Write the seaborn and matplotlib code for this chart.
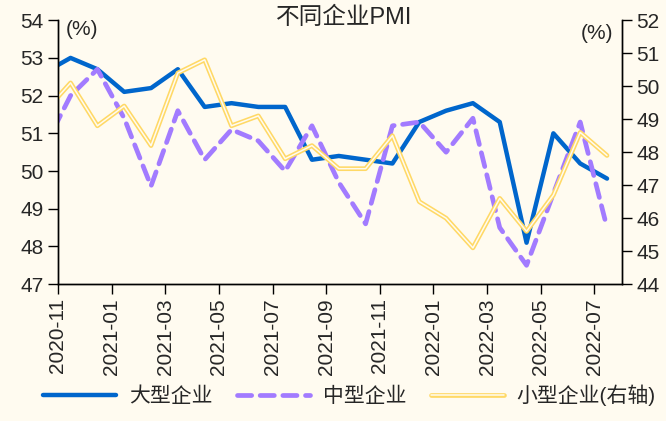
import matplotlib
matplotlib.use("Agg")
import matplotlib.pyplot as plt
from matplotlib.legend_handler import HandlerTuple
import seaborn as sns
import pandas as pd

# Monthly PMI by enterprise size (2020-10 is only partly visible at the left edge)
months = ["2020-10", "2020-11", "2020-12", "2021-01", "2021-02", "2021-03", "2021-04",
          "2021-05", "2021-06", "2021-07", "2021-08", "2021-09", "2021-10", "2021-11",
          "2021-12", "2022-01", "2022-02", "2022-03", "2022-04", "2022-05", "2022-06",
          "2022-07"]
large = [52.6, 53.0, 52.7, 52.1, 52.2, 52.7, 51.7, 51.8, 51.7, 51.7, 50.3, 50.4,
         50.3, 50.2, 51.3, 51.6, 51.8, 51.3, 48.1, 51.0, 50.2, 49.8]
medium = [50.6, 52.0, 52.7, 51.4, 49.6, 51.6, 50.3, 51.1, 50.8, 50.0, 51.2, 49.7,
          48.6, 51.2, 51.3, 50.5, 51.4, 48.5, 47.5, 49.4, 51.3, 48.5]
small = [49.2, 50.1, 48.8, 49.4, 48.2, 50.4, 50.8, 48.8, 49.1, 47.8, 48.2, 47.5,
         47.5, 48.5, 46.5, 46.0, 45.1, 46.6, 45.6, 46.7, 48.6, 47.9]
tick_months = ["2020-11", "2021-01", "2021-03", "2021-05", "2021-07", "2021-09",
               "2021-11", "2022-01", "2022-03", "2022-05", "2022-07"]

bg = "#FFFBF0"
c_large = "#0066CC"
c_medium = "#A27BFF"
c_small = "#FFD966"

df = pd.DataFrame({"month": months, "large": large, "medium": medium, "small": small})
df["x"] = range(-1, len(months) - 1)  # 2020-11 -> 0

sns.set_style("ticks")
plt.rcParams["font.family"] = ["Liberation Sans", "Noto Sans CJK SC", "DejaVu Sans"]

fig = plt.figure(figsize=(6.66, 4.21), dpi=100, facecolor=bg)
ax = fig.add_axes([0.087, 0.325, 0.847, 0.627])
ax.set_facecolor(bg)
ax2 = ax.twinx()

sns.lineplot(data=df, x="x", y="large", ax=ax, color=c_large, lw=3.2, legend=False)
sns.lineplot(data=df, x="x", y="medium", ax=ax, color=c_medium, lw=3.4, legend=False)
h_large, h_medium = ax.get_lines()
h_medium.set_dashes((3.0, 1.8))
h_medium.set_dash_capstyle("round")

sns.lineplot(data=df, x="x", y="small", ax=ax2, color=c_small, lw=3.4, legend=False)
sns.lineplot(data=df, x="x", y="small", ax=ax2, color=bg, lw=1.1, legend=False)
h_small_o, h_small_i = ax2.get_lines()

off = 0.47
ax.set_xlim(-off, 20.56)
ax.set_ylim(47, 54)
ax2.set_ylim(44, 52)
ax.set_yticks(range(47, 55))
ax2.set_yticks(range(44, 53))
tick_pos = [months.index(m) - 1 - off for m in tick_months]
ax.set_xticks(tick_pos)
ax.set_xticklabels(tick_months, rotation=90)
ax.set_xlabel("")
ax.set_ylabel("")
ax2.set_ylabel("")

for a in (ax, ax2):
    a.tick_params(labelsize=15, length=7, width=1, color="black", direction="out")
    for s in a.spines.values():
        s.set_color("black")
        s.set_linewidth(1)
    a.spines["top"].set_visible(False)
ax.tick_params(axis="x", pad=3)

ax.text(0.013, 1.0, "(%)", transform=ax.transAxes, fontsize=15, va="top", ha="left")
ax2.text(0.985, 0.985, "(%)", transform=ax2.transAxes, fontsize=15, va="top", ha="right")
fig.text(0.517, 0.957, "不同企业PMI", fontsize=17, ha="center", va="center")

fig.legend([h_large, h_medium, (h_small_o, h_small_i)],
           ["大型企业", "中型企业", "小型企业(右轴)"],
           handler_map={tuple: HandlerTuple(ndivide=1)},
           loc="lower center", bbox_to_anchor=(0.525, -0.01), ncol=3, frameon=False,
           fontsize=15, handlelength=3.5, columnspacing=1.2, handletextpad=0.6)

fig.savefig("out.png", dpi=100, facecolor=bg)
